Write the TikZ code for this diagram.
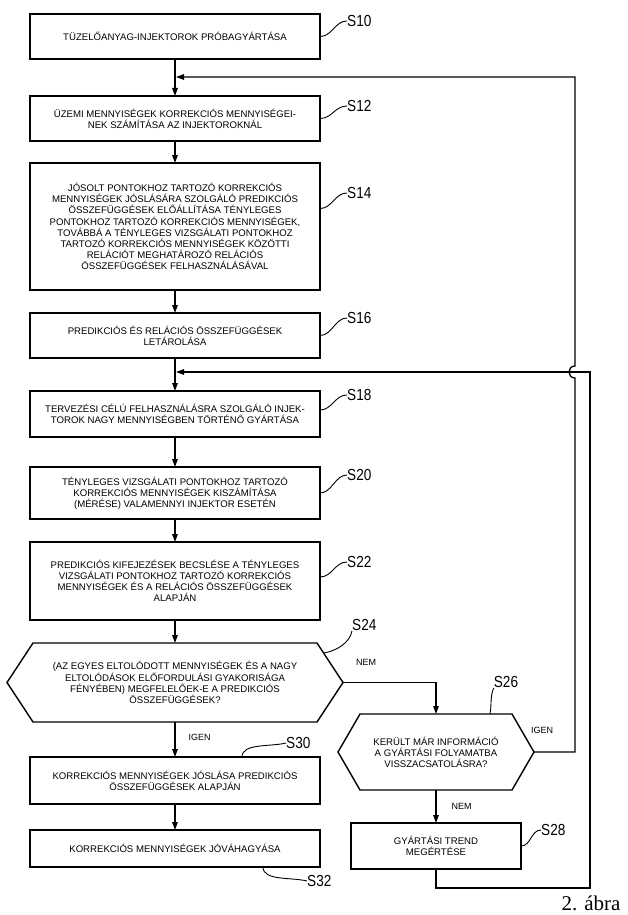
\documentclass[tikz,border=0pt]{standalone}
\usepackage{fontspec}
\setmainfont{Liberation Sans}
\newfontfamily\stepfont[FakeStretch=0.85]{Liberation Sans}
\newfontfamily\capfont{Liberation Serif}
\usetikzlibrary{arrows.meta}
\newcommand{\flowfont}{\fontsize{9.6}{11.1}\selectfont}
\newcommand{\hexframe}[2]{%
  \draw[line width=1.4pt] (#1.west) -- ([xshift=#2]#1.north west) -- ([xshift=-#2]#1.north east)
    -- (#1.east) -- ([xshift=-#2]#1.south east) -- ([xshift=#2]#1.south west) -- cycle;}
\begin{document}
\begin{tikzpicture}[x=1pt,y=-1pt,
    box/.style={draw,line width=1.4pt,minimum width=290pt,inner sep=0pt,outer sep=0pt,align=center,font=\flowfont},
    decision/.style={inner sep=0pt,outer sep=0pt,align=center,font=\flowfont},
    arr/.style={-{Triangle[length=8pt,width=5.5pt]},line width=1.3pt},
    stepname/.style={inner sep=0pt,anchor=west,font=\stepfont\fontsize{16}{16}\selectfont},
    answer/.style={inner sep=1pt,font=\fontsize{9}{9}\selectfont},
    lead/.style={line width=0.9pt}]
    \useasboundingbox (0,0) rectangle (628,915);

    \node[box,minimum height=45pt] (s10) at (175,36.5) {TÜZELŐANYAG-INJEKTOROK PRÓBAGYÁRTÁSA};
    \node[box,minimum height=45pt] (s12) at (175,118.5) {ÜZEMI MENNYISÉGEK KORREKCIÓS MENNYISÉGEI-\\NEK SZÁMÍTÁSA AZ INJEKTOROKNÁL};
    \node[box,minimum height=127pt] (s14) at (175,226.5) {JÓSOLT PONTOKHOZ TARTOZÓ KORREKCIÓS\\MENNYISÉGEK JÓSLÁSÁRA SZOLGÁLÓ PREDIKCIÓS\\ÖSSZEFÜGGÉSEK ELŐÁLLÍTÁSA TÉNYLEGES\\PONTOKHOZ TARTOZÓ KORREKCIÓS MENNYISÉGEK,\\TOVÁBBÁ A TÉNYLEGES VIZSGÁLATI PONTOKHOZ\\TARTOZÓ KORREKCIÓS MENNYISÉGEK KÖZÖTTI\\RELÁCIÓT MEGHATÁROZÓ RELÁCIÓS\\ÖSSZEFÜGGÉSEK FELHASZNÁLÁSÁVAL};
    \node[box,minimum height=45pt] (s16) at (175,335.5) {PREDIKCIÓS ÉS RELÁCIÓS ÖSSZEFÜGGÉSEK\\LETÁROLÁSA};
    \node[box,minimum height=46pt] (s18) at (175,414) {TERVEZÉSI CÉLÚ FELHASZNÁLÁSRA SZOLGÁLÓ INJEK-\\TOROK NAGY MENNYISÉGBEN TÖRTÉNŐ GYÁRTÁSA};
    \node[box,minimum height=52pt] (s20) at (175,493) {TÉNYLEGES VIZSGÁLATI PONTOKHOZ TARTOZÓ\\KORREKCIÓS MENNYISÉGEK KISZÁMÍTÁSA\\(MÉRÉSE) VALAMENNYI INJEKTOR ESETÉN};
    \node[box,minimum height=78pt] (s22) at (175,581) {PREDIKCIÓS KIFEJEZÉSEK BECSLÉSE A TÉNYLEGES\\VIZSGÁLATI PONTOKHOZ TARTOZÓ KORREKCIÓS\\MENNYISÉGEK ÉS A RELÁCIÓS ÖSSZEFÜGGÉSEK\\ALAPJÁN};
    \node[decision,minimum width=336pt,minimum height=79pt] (s24) at (175,682.5) {(AZ EGYES ELTOLÓDOTT MENNYISÉGEK ÉS A NAGY\\ELTOLÓDÁSOK ELŐFORDULÁSI GYAKORISÁGA\\FÉNYÉBEN) MEGFELELŐEK-E A PREDIKCIÓS\\ÖSSZEFÜGGÉSEK?};
    \hexframe{s24}{26pt}
    \node[box,minimum height=47pt] (s30) at (175,780.5) {KORREKCIÓS MENNYISÉGEK JÓSLÁSA PREDIKCIÓS\\ÖSSZEFÜGGÉSEK ALAPJÁN};
    \node[box,minimum height=37pt] (s32) at (175,848.5) {KORREKCIÓS MENNYISÉGEK JÓVÁHAGYÁSA};
    \node[decision,minimum width=196pt,minimum height=76pt] (s26) at (436,752) {KERÜLT MÁR INFORMÁCIÓ\\A GYÁRTÁSI FOLYAMATBA\\VISSZACSATOLÁSRA?};
    \hexframe{s26}{22pt}
    \node[box,minimum width=170pt,minimum height=46pt] (s28) at (436,846) {GYÁRTÁSI TREND\\MEGÉRTÉSE};

    \coordinate (j1) at (176,77);
    \coordinate (j2) at (176,372);
    \draw[arr] (s10) -- (s12);
    \draw[arr] (s12) -- (s14);
    \draw[arr] (s14) -- (s16);
    \draw[arr] (s16) -- (s18);
    \draw[arr] (s18) -- (s20);
    \draw[arr] (s20) -- (s22);
    \draw[arr] (s22) -- (s24);
    \draw[arr] (s24) -- node[answer,right=12pt,pos=0.45]{IGEN} (s30);
    \draw[arr] (s30) -- (s32);
    \draw[arr] (s24.east) -| (s26.north);
    \draw[arr] (s26) -- node[answer,right=14pt]{NEM} (s28);
    \draw[arr] (s26.east) -- (575,752) -- (575,378) .. controls (567,378) and (567,366) .. (575,366) -- (575,77) -- (j1);
    \draw[arr] (s28.south) -- (436,888) -- (590,888) -- (590,372) -- (j2);

    \node[answer] (nem1) at (366,662) {NEM};
    \node[answer] (igen2) at (542,730) {IGEN};

    \node[stepname] (l10) at (347,21) {S10};
    \node[stepname] (l12) at (347,106) {S12};
    \node[stepname] (l14) at (347,193) {S14};
    \node[stepname] (l16) at (347,318) {S16};
    \node[stepname] (l18) at (347,395) {S18};
    \node[stepname] (l20) at (347,475) {S20};
    \node[stepname] (l22) at (347,562) {S22};
    \node[stepname] (l24) at (352,625) {S24};
    \node[stepname,anchor=south] (l26) at (506,688) {S26};
    \node[stepname] (l28) at (541,830) {S28};
    \node[stepname] (l30) at (286,743) {S30};
    \node[stepname] (l32) at (307,881) {S32};
    \coordinate (t24) at (324,653);
    \coordinate (t26) at (490,714);
    \coordinate (t30) at (242,757);
    \coordinate (t32) at (263,867);

    \draw[lead] (s10.east) .. controls +(12,0) and +(-12,0) .. (l10.west);
    \draw[lead] (s12.east) .. controls +(12,0) and +(-12,0) .. (l12.west);
    \draw[lead] ([yshift=18pt]s14.east) .. controls +(12,0) and +(-12,0) .. (l14.west);
    \draw[lead] (s16.east) .. controls +(12,0) and +(-12,0) .. (l16.west);
    \draw[lead] ([yshift=4pt]s18.east) .. controls +(12,0) and +(-12,0) .. (l18.west);
    \draw[lead] (s20.east) .. controls +(12,0) and +(-12,0) .. (l20.west);
    \draw[lead] ([yshift=4pt]s22.east) .. controls +(12,0) and +(-12,0) .. (l22.west);
    \draw[lead] (t24) .. controls +(12,-2) and +(-2,12) .. (l24.south west);
    \draw[lead] (t26) .. controls +(2,-12) and +(-4,10) .. (l26.south west);
    \draw[lead] (s28.east) .. controls +(10,0) and +(-10,0) .. (l28.west);
    \draw[lead] (t30) .. controls +(0,-14) and +(-16,4) .. (l30.west);
    \draw[lead] (t32) .. controls +(0,14) and +(-16,-4) .. (l32.west);

    \node[font=\capfont\fontsize{21}{21}\selectfont,inner sep=0pt,anchor=base] (fig) at (591,910) {2. ábra};
\end{tikzpicture}
\end{document}
